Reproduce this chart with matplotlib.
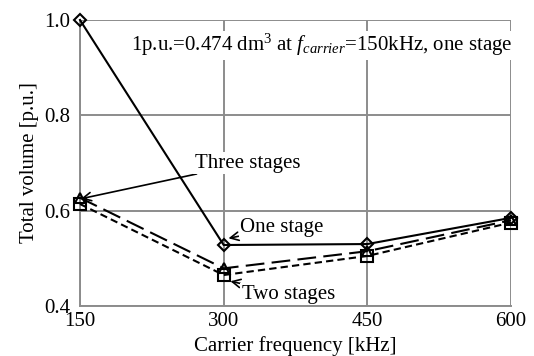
import matplotlib
matplotlib.use("Agg")
import matplotlib.pyplot as plt

plt.rcParams['font.family'] = ['Liberation Serif', 'DejaVu Serif']
plt.rcParams['mathtext.fontset'] = 'custom'
plt.rcParams['mathtext.rm'] = 'Liberation Serif'
plt.rcParams['mathtext.it'] = 'Liberation Serif:italic'

# carrier frequency [kHz] and total volume [p.u.] per converter type
freq = [150, 300, 450, 600]
one_stage = [1.0, 0.528, 0.53, 0.585]
three_stages = [0.627, 0.479, 0.515, 0.58]
two_stages = [0.614, 0.465, 0.505, 0.575]

xticks = [150, 300, 450, 600]
yticks = [0.4, 0.6, 0.8, 1.0]

fig = plt.figure(figsize=(5.34, 3.56), dpi=100)
ax = fig.add_axes([0.1498, 0.1404, 0.957 - 0.1498, 0.9438 - 0.1404])

grey = '#8c8c8c'
fs = 15

ax.plot(freq, one_stage, '-', color='black', lw=1.5, marker='D', ms=6.5,
        mfc='none', mec='black', mew=1.5, clip_on=False, zorder=4)
ax.plot(freq, three_stages, color='black', lw=1.5, dashes=(9, 3.5), marker='^', ms=7.5,
        mfc='none', mec='black', mew=1.5, clip_on=False, zorder=4)
ax.plot(freq, two_stages, color='black', lw=1.5, dashes=(3.5, 2), marker='s', ms=8,
        mfc='none', mec='black', mew=1.5, clip_on=False, zorder=4)

ax.set_xlim(150, 600)
ax.set_ylim(0.4, 1.0)
ax.set_xticks(xticks)
ax.set_yticks(yticks)
ax.set_xticklabels([str(v) for v in xticks], fontsize=fs)
ax.set_yticklabels(['%.1f' % v for v in yticks], fontsize=fs)
ax.tick_params(axis='y', length=0, pad=7)
ax.tick_params(axis='x', length=0, pad=4)
ax.grid(True, color=grey, lw=1.4, zorder=1)
ax.set_axisbelow(True)
for s in ax.spines.values():
    s.set_color(grey)
    s.set_linewidth(1.4)
ax.spines['top'].set_visible(False)
ax.spines['right'].set_visible(False)

ax.set_xlabel('Carrier frequency [kHz]', fontsize=fs, labelpad=4)
ax.set_ylabel('Total volume [p.u.]', fontsize=fs, labelpad=4)

box = dict(facecolor='white', edgecolor='none', pad=1)
arrow = dict(arrowstyle='->', color='black', lw=1.2, shrinkA=0, shrinkB=0)

ax.annotate('Three stages', xy=(151, 0.625), xytext=(270, 0.7),
            fontsize=fs, va='center', ha='left', bbox=box, arrowprops=arrow, zorder=5)
ax.annotate('One stage', xy=(305, 0.542), xytext=(317, 0.565),
            fontsize=fs, va='center', ha='left', bbox=box, arrowprops=arrow, zorder=5)
ax.annotate('Two stages', xy=(307, 0.452), xytext=(319, 0.425),
            fontsize=fs, va='center', ha='left', bbox=box, arrowprops=arrow, zorder=5)

ax.text(0.56, 0.912, r'1p.u.=0.474 dm$^3$ at $f_{carrier}$=150kHz, one stage',
        transform=ax.transAxes, fontsize=fs, ha='center', va='center',
        bbox=box, zorder=5, clip_on=False)

fig.savefig('out.png', dpi=100)
